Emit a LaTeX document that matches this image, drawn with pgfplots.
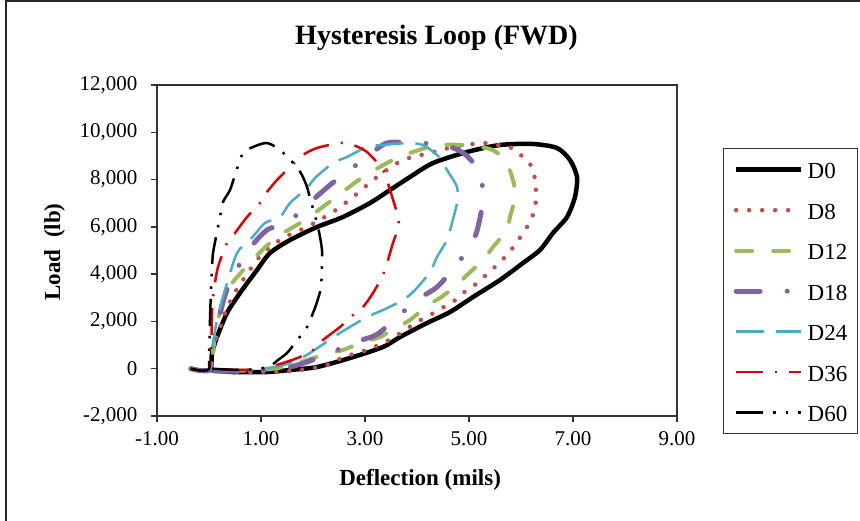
\documentclass[border=0pt]{standalone}
\usepackage{pgfplots}
\pgfplotsset{compat=1.18}
\usepackage{fontspec}
\setmainfont{Liberation Serif}
\definecolor{cD8}{HTML}{C0504D}
\definecolor{cD12}{HTML}{9BBB59}
\definecolor{cD18}{HTML}{8064A2}
\definecolor{cD24}{HTML}{4BACC6}
\definecolor{cD36}{HTML}{E00000}
\begin{document}
\begin{tikzpicture}
\useasboundingbox (0pt,0pt) rectangle (860pt,520pt);
\draw[line width=2pt, black!85] (6pt,-10pt) -- (6pt,519pt) -- (870pt,519pt);
\begin{axis}[
  at={(157pt,104pt)}, anchor=south west,
  scale only axis, width=520pt, height=331pt,
  xmin=-1, xmax=9, ymin=-2000, ymax=12000,
  scaled y ticks=false, scaled x ticks=false,
  xtick={-1,1,3,5,7,9}, xticklabels={-1.00,1.00,3.00,5.00,7.00,9.00},
  ytick={-2000,0,2000,4000,6000,8000,10000,12000},
  yticklabels={{-2,000},{0},{2,000},{4,000},{6,000},{8,000},{10,000},{12,000}},
  tick align=outside, xtick pos=bottom, ytick pos=left, major tick length=6pt,
  tick style={black!80, line width=1.3pt},
  axis line style={black!80, line width=1.3pt},
  ticklabel style={font=\fontsize{21}{21}\selectfont},
  xticklabel style={yshift=-6pt},
  yticklabel style={xshift=-10pt},
  title={Hysteresis Loop (FWD)},
  title style={at={(0.5375,1.1057)}, anchor=base, font=\fontsize{28}{28}\selectfont\bfseries},
  xlabel={Deflection (mils)},
  xlabel style={at={(0.506,-0.2085)}, anchor=base, font=\fontsize{23}{23}\selectfont\bfseries},
  ylabel={Load~~(lb)},
  ylabel style={at={(-0.1865,0.4955)}, anchor=base, rotate=0, font=\fontsize{23}{23}\selectfont\bfseries},
  legend style={at={(1.0885,0.8097)}, anchor=north west, draw=black!80, line width=1.3pt,
    inner xsep=10pt, inner ysep=10.5pt, row sep=19.5pt, column sep=4pt,
    font=\fontsize{23}{23}\selectfont,
    nodes={inner sep=0pt, text height=19.5pt, text depth=1.5pt}},
  legend cell align=left,
  legend image code/.code={\draw[#1] (0pt,0pt) -- (65pt,0pt);},
  every axis plot/.append style={smooth, tension=0.45, line join=round},
]
\addplot[black, line width=4.5pt] coordinates {(-0.35,0) (-0.15,-80) (0.03,-20) (0.058,664) (0.154,1340) (0.346,2356) (0.596,3202) (0.923,4175) (1.173,4894) (1.558,5444) (2.077,5994) (2.577,6417) (3.096,7009) (3.481,7559) (3.865,8109) (4.308,8701) (4.962,9167) (5.596,9463) (6.231,9505) (6.692,9336) (6.942,8828) (7.077,8109) (7.038,7263) (6.885,6417) (6.615,5740) (6.365,5021) (6.038,4471) (5.596,3752) (5.077,3033) (4.635,2398) (4.192,1932) (3.673,1340) (3.346,918) (2.712,453) (2.077,72) (1.558,-55) (1.115,-140) (0.462,-140) (0.019,-55)};
\addlegendentry{D0}
\addplot[cD8, line width=4.5pt, line cap=round, dash pattern=on 0pt off 13pt] coordinates {(-0.35,0) (-0.15,-80) (0.03,-20) (0.06,500) (0.115,1073) (0.3,2300) (0.5,3231) (0.981,4754) (1.423,5525) (1.885,5994) (2.385,6628) (2.769,7263) (3.231,8109) (3.731,8828) (4.25,9124) (4.692,9378) (5.269,9547) (5.558,9463) (5.827,9336) (6.038,8955) (6.212,8532) (6.269,7982) (6.288,7432) (6.269,6797) (6.173,6205) (6.038,5740) (5.885,5232) (5.712,4767) (5.519,4344) (5.327,3964) (5.135,3583) (4.885,3202) (4.692,2821) (4.481,2567) (4.25,2271) (4.0,1975) (3.769,1637) (3.538,1299) (3.346,1087) (3.038,791) (2.712,580) (2.462,368) (2.269,157) (2.0,30) (1.56,-100) (0.79,-140) (0.115,-100)};
\addlegendentry{D8}
\addplot[cD12, line width=4pt, line cap=round, dash pattern=on 16pt off 21pt] coordinates {(-0.35,0) (-0.15,-80) (0.03,-20) (0.08,800) (0.15,1800) (0.269,2893) (0.442,3612) (0.885,4712) (1.308,5571) (1.846,6290) (2.365,7136) (2.962,8109) (3.615,8913) (4.308,9420) (4.827,9463) (5.404,9294) (5.692,8828) (5.846,7982) (5.885,7263) (5.788,6417) (5.731,5867) (5.462,5148) (5.269,4598) (4.962,3964) (4.769,3541) (4.442,2990) (4.212,2694) (3.865,2060) (3.615,1764) (3.288,1341) (2.962,1129) (2.577,791) (2.327,664) (1.885,368) (1.558,114) (0.981,-55) (0.115,-100)};
\addlegendentry{D12}
\addplot[cD18, line width=5pt, line cap=round, dash pattern=on 24pt off 27pt on 0pt off 27pt] coordinates {(-0.35,0) (-0.15,-80) (0.03,-20) (0.077,783) (0.2,2200) (0.365,3456) (0.731,4936) (1.115,5867) (1.5,6163) (1.885,6924) (2.327,7770) (2.577,8193) (3.038,8955) (3.423,9547) (4.0,9547) (4.5,9463) (4.788,9251) (4.981,8955) (5.212,8278) (5.269,7178) (5.173,5994) (5.058,5317) (4.731,4302) (4.385,3456) (4.058,2990) (3.615,2186) (3.231,1450) (2.846,1150) (2.327,664) (1.885,283) (1.462,30) (0.788,-100) (0.115,-100)};
\addlegendentry{D18}
\addplot[cD24, line width=2.5pt, dash pattern=on 28pt off 12pt] coordinates {(-0.35,0) (-0.15,-80) (0.03,-20) (0.058,783) (0.154,2060) (0.308,3329) (0.538,4894) (0.788,5444) (1.077,6163) (1.365,6417) (1.558,7009) (1.885,7643) (2.038,8066) (2.385,8701) (2.654,8955) (3.038,9378) (3.346,9463) (3.865,9547) (4.154,9420) (4.442,8913) (4.577,8405) (4.769,7686) (4.769,7009) (4.673,6163) (4.577,5444) (4.385,4725) (4.25,4090) (3.962,3329) (3.731,2906) (3.346,2483) (3.038,2186) (2.519,1510) (1.942,664) (1.692,368) (1.365,114) (0.788,-55) (0.115,-55)};
\addlegendentry{D24}
\addplot[cD36, line width=2.5pt, dash pattern=on 27pt off 12pt on 2pt off 12pt] coordinates {(-0.35,0) (-0.15,-80) (0.0,-20) (0.038,580) (0.058,2356) (0.096,3329) (0.173,4302) (0.346,5317) (0.5,5740) (0.731,6417) (0.981,7009) (1.115,7474) (1.308,7982) (1.558,8532) (1.808,9040) (2.077,9336) (2.519,9547) (2.769,9463) (3.038,9167) (3.346,8405) (3.481,7559) (3.635,6417) (3.635,5952) (3.538,5317) (3.442,4598) (3.346,3964) (3.154,3202) (2.962,2610) (2.769,2271) (2.519,1764) (2.192,1214) (2.0,791) (1.75,495) (1.423,241) (1.077,30) (0.596,-55) (0.058,0)};
\addlegendentry{D36}
\addplot[black, line width=2.5pt, dash pattern=on 27pt off 10pt on 2.5pt off 10pt on 2.5pt off 10pt] coordinates {(-0.35,0) (-0.15,-80) (0.0,-20) (0.0,368) (0.019,2060) (0.038,3329) (0.058,4302) (0.077,4894) (0.135,5571) (0.212,6417) (0.269,7051) (0.404,7559) (0.519,8320) (0.654,9124) (0.846,9378) (1.115,9547) (1.365,9251) (1.654,8617) (1.788,8193) (1.885,7686) (1.942,7220) (2.077,6163) (2.135,5571) (2.173,5021) (2.173,4471) (2.154,3456) (2.077,2821) (2.0,2356) (1.885,1764) (1.654,1087) (1.5,664) (1.327,368) (1.135,72) (0.692,-55) (0.058,0)};
\addlegendentry{D60}
\end{axis}
\end{tikzpicture}
\end{document}
